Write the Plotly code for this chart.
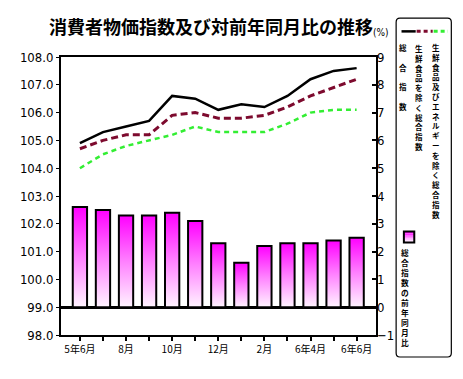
import plotly.graph_objects as go

# ---- data ----
months = ["5年6月", "7月", "8月", "9月", "10月", "11月", "12月", "1月", "2月", "3月", "6年4月", "5月", "6年6月"]
tick_labels = ["5年6月", "", "8月", "", "10月", "", "12月", "", "2月", "", "6年4月", "", "6年6月"]
sogo = [104.9, 105.3, 105.5, 105.7, 106.6, 106.5, 106.1, 106.3, 106.2, 106.6, 107.2, 107.5, 107.6]
core = [104.7, 105.0, 105.2, 105.2, 105.9, 106.0, 105.8, 105.8, 105.9, 106.2, 106.6, 106.9, 107.2]
core_core = [104.0, 104.5, 104.8, 105.0, 105.2, 105.5, 105.3, 105.3, 105.3, 105.6, 106.0, 106.1, 106.1]
yoy = [3.6, 3.5, 3.3, 3.3, 3.4, 3.1, 2.3, 1.6, 2.2, 2.3, 2.3, 2.4, 2.5]

PAGE_W, PAGE_H = 463, 379
OFF = 8  # default body margin of the html page
W, H = PAGE_W - OFF, PAGE_H - OFF
L, R, T, B = 42.7, 376.0, 57.3, 335.0  # plot area in page pixels


def fx(px):
    return (px - L) / (R - L)


def fy(py):
    return (B - py) / (B - T)


fig = go.Figure()

# bars (gradient) on right axis
hw = 0.31
for i, v in enumerate(yoy):
    fig.add_trace(go.Scatter(
        x=[i - hw, i + hw, i + hw, i - hw, i - hw],
        y=[0, 0, v, v, 0],
        mode="lines", fill="toself",
        line=dict(color="black", width=2),
        fillgradient=dict(type="vertical", colorscale=[[0, "#fff4ff"], [0.5, "#ff80ff"], [1, "#ff00ff"]]),
        xaxis="x", yaxis="y2", showlegend=False, hoverinfo="skip"))

x_idx = list(range(len(months)))
fig.add_trace(go.Scatter(x=x_idx, y=core_core, mode="lines",
                         line=dict(color="#33ee33", width=2.5, dash="5px,4px"), showlegend=False))
fig.add_trace(go.Scatter(x=x_idx, y=core, mode="lines",
                         line=dict(color="#7d0a2e", width=3, dash="7px,4px"), showlegend=False))
fig.add_trace(go.Scatter(x=x_idx, y=sogo, mode="lines",
                         line=dict(color="black", width=2.5), showlegend=False))

tickfont = dict(family="Liberation Sans Narrow, DejaVu Sans Condensed, sans-serif", size=13, color="black")
cjk = "Noto Sans CJK JP"

fig.update_layout(
    width=W, height=H,
    margin=dict(l=L - OFF, r=PAGE_W - R, t=T - OFF, b=PAGE_H - B, pad=0),
    paper_bgcolor="white", plot_bgcolor="white",
    xaxis=dict(range=[-0.82, 12.84], tickmode="array", tickvals=x_idx, ticktext=tick_labels,
               ticks="outside", ticklen=4, tickwidth=1.5, tickcolor="black",
               showline=True, mirror=True, linecolor="black", linewidth=2,
               showgrid=False, zeroline=False,
               tickfont=dict(family=cjk, size=10, color="black")),
    yaxis=dict(range=[98, 108], dtick=1, tickformat=".1f",
               ticks="outside", ticklen=3, tickcolor="black",
               showline=True, mirror=True, linecolor="black", linewidth=2,
               showgrid=False, zeroline=False, tickfont=tickfont),
    yaxis2=dict(range=[-1, 9], dtick=1, overlaying="y", side="right",
                ticks="inside", ticklen=4, tickwidth=1.5, tickcolor="black",
                showline=False, showgrid=False,
                zeroline=True, zerolinecolor="black", zerolinewidth=2.5,
                tickfont=tickfont),
)

annotations = []
shapes = []


def ann(text, px, py, font):
    annotations.append(dict(text=text, x=fx(px), y=fy(py), xref="paper", yref="paper",
                            xanchor="center", yanchor="middle", showarrow=False, font=font))


# title
ann("<b>消費者物価指数及び対前年同月比の推移</b>", 201.5, 26, dict(family=cjk, size=18, color="black"))
ann("(%)", 381, 33, dict(family=tickfont["family"], size=10, color="black"))

# legend box (rounded)
bx0, by0, bx1, by1, rr = 397.3, 18.5, 455.7, 357.0, 4
path = (f"M {fx(bx0+rr)},{fy(by0)} L {fx(bx1-rr)},{fy(by0)} Q {fx(bx1)},{fy(by0)} {fx(bx1)},{fy(by0+rr)} "
        f"L {fx(bx1)},{fy(by1-rr)} Q {fx(bx1)},{fy(by1)} {fx(bx1-rr)},{fy(by1)} "
        f"L {fx(bx0+rr)},{fy(by1)} Q {fx(bx0)},{fy(by1)} {fx(bx0)},{fy(by1-rr)} "
        f"L {fx(bx0)},{fy(by0+rr)} Q {fx(bx0)},{fy(by0)} {fx(bx0+rr)},{fy(by0)} Z")
shapes.append(dict(type="path", path=path, xref="paper", yref="paper",
                   line=dict(color="black", width=1.2), fillcolor="white"))

# legend line samples
shapes.append(dict(type="line", xref="paper", yref="paper", x0=fx(403), x1=fx(418), y0=fy(31.7), y1=fy(31.7),
                   line=dict(color="black", width=2.5)))
shapes.append(dict(type="line", xref="paper", yref="paper", x0=fx(419), x1=fx(436), y0=fy(31.7), y1=fy(31.7),
                   line=dict(color="#7d0a2e", width=3, dash="4px,3px")))
shapes.append(dict(type="line", xref="paper", yref="paper", x0=fx(437), x1=fx(452), y0=fy(31.7), y1=fy(31.7),
                   line=dict(color="#33ee33", width=3, dash="4px,3px")))

# vertical legend texts: (text, x centre, y of first char, char step, blank lines between chars)
legend_cols = [
    ("総合指数", 405.0, 48.3, 9.8, 1),
    ("生鮮食品を除く総合指数", 421.7, 48.3, 9.8, 0),
    ("生鮮食品及びエネルギーを除く総合指数", 440.0, 48.3, 9.8, 0),
    ("総合指数の前年同月比", 406.7, 252.7, 10.0, 0),
]
for text, cx, cy, step, gap in legend_cols:
    sep = "<br>" * (gap + 1)
    nlines = len(text) + (len(text) - 1) * gap
    centre = cy + (nlines - 1) * step / 2
    ann("<b>" + sep.join(text) + "</b>", cx, centre, dict(family=cjk, size=step / 1.3, color="black"))

# legend bar sample (gradient strips)
sx0, sx1, sy0, sy1 = 405.5, 416.5, 231.5, 242.5
cols = ["#ff00ff", "#ff30ff", "#ff60ff", "#ff90ff", "#ffbfff", "#ffe6ff"]
n = len(cols)
for k in range(n):
    shapes.append(dict(type="rect", xref="paper", yref="paper", x0=fx(sx0), x1=fx(sx1),
                       y0=fy(sy0 + (sy1 - sy0) * k / n), y1=fy(sy0 + (sy1 - sy0) * (k + 1) / n),
                       line=dict(width=0), fillcolor=cols[k]))
shapes.append(dict(type="rect", xref="paper", yref="paper", x0=fx(sx0), x1=fx(sx1), y0=fy(sy0), y1=fy(sy1),
                   line=dict(color="black", width=2), fillcolor="rgba(0,0,0,0)"))

fig.update_layout(annotations=annotations, shapes=shapes)
fig.write_html("out.html")
